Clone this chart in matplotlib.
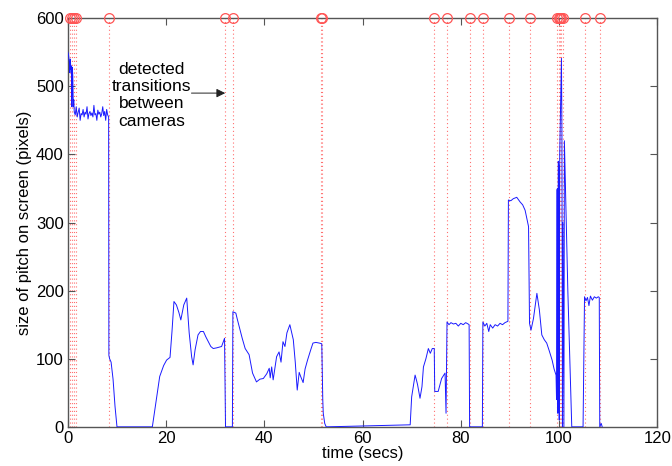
import matplotlib
matplotlib.use('Agg')
import matplotlib.pyplot as plt
import numpy as np

# 数据
time_s = [0.0, 0.15, 0.3, 0.4, 0.5, 0.6, 0.7, 0.8, 0.9, 1.0, 1.1, 1.2, 1.3, 1.5, 1.7, 1.9,
          2.1, 2.3, 2.5, 2.7, 2.9, 3.1, 3.3, 3.5, 3.7, 3.9, 4.1, 4.3, 4.5, 4.7, 4.9, 5.1,
          5.3, 5.5, 5.7, 5.9, 6.1, 6.3, 6.5, 6.7, 6.9, 7.1, 7.3, 7.5, 7.7, 7.9, 8.1, 8.3,
          8.35, 8.5, 8.8, 9.2, 9.6, 10.0,
          17.2, 18.0, 18.7, 19.5, 20.1, 20.8, 21.2, 21.6, 22.1, 22.6, 23.0, 23.6, 24.2,
          24.7, 25.2, 25.5, 25.9, 26.5, 27.0, 27.6, 28.1, 28.6, 29.1, 29.6, 30.3, 30.8,
          31.3, 31.9, 32.0, 32.1, 33.5, 33.6, 34.2, 34.5, 34.9, 35.5, 36.1, 36.9, 37.6,
          38.4, 39.1, 39.8, 40.5, 41.0, 41.2, 41.5, 41.8, 42.5, 43.0, 43.4, 43.8, 44.2,
          44.6, 45.2, 45.9, 46.3, 46.7, 47.1, 47.4, 47.9, 48.3, 48.8, 49.4, 49.9, 50.5,
          51.2, 51.7, 51.8, 51.9, 52.0, 52.3, 52.6,
          69.7, 70.0, 70.7, 71.0, 71.2, 71.5, 71.7, 72.1, 72.4, 72.9, 73.4, 73.8, 74.2,
          74.6, 74.7, 75.4, 76.1, 76.8, 77.0, 77.2, 77.6, 78.0, 78.5, 79.0, 79.5, 80.0,
          80.5, 81.0, 81.5, 81.7, 81.8, 84.4, 84.5, 84.9, 85.3, 85.7, 86.0, 86.5, 87.0,
          87.5, 88.0, 88.5, 89.0, 89.6, 89.7, 90.2, 90.7, 91.4, 92.1, 92.6, 93.1, 93.8,
          94.0, 94.3, 94.8, 95.5, 96.0, 96.5, 97.0, 97.5, 98.0, 98.6, 99.0, 99.4, 99.5,
          99.55, 99.7, 99.75, 99.85, 100.0, 100.05, 100.15, 100.3, 100.5, 100.6, 100.7,
          100.8, 100.9, 101.0, 101.1, 101.8, 102.6, 104.9, 105.2, 105.5, 105.8, 106.1,
          106.4, 106.8, 107.2, 107.6, 108.0, 108.2, 108.3, 108.6, 108.8]
pitch_px = [550, 545, 535, 520, 540, 525, 530, 470, 528, 515, 470, 480, 462, 458, 470, 455,
            462, 468, 450, 460, 458, 466, 455, 462, 459, 470, 452, 460, 463, 457, 461, 455,
            472, 458, 460, 450, 465, 459, 462, 455, 460, 470, 457, 463, 450, 466, 458, 455,
            105, 100, 95, 70, 30, 0,
            0, 40, 74, 90, 98, 102, 140, 184, 179, 168, 157, 179, 189,
            138, 103, 91, 113, 135, 140, 140, 132, 125, 118, 115, 116, 117,
            118, 130, 60, 0, 0, 169, 167, 158, 147, 130, 115, 106, 79,
            66, 70, 71, 78, 86, 72, 88, 69, 103, 110, 95, 125, 118,
            138, 150, 128, 95, 54, 80, 74, 65, 85, 98, 112, 123, 124,
            123, 122, 84, 40, 20, 5, 0,
            3, 44, 76, 68, 62, 50, 42, 59, 88, 100, 115, 108, 115,
            115, 52, 52, 71, 79, 20, 154, 150, 153, 151, 152, 148, 152,
            150, 153, 151, 150, 0, 0, 154, 148, 152, 140, 150, 145, 150,
            148, 152, 150, 153, 155, 333, 332, 335, 337, 330, 326, 318, 294,
            152, 142, 159, 196, 172, 135, 128, 123, 112, 98, 85, 76, 40,
            348, 350, 20, 390, 380, 10, 400, 460, 541, 430, 0,
            300, 150, 0, 420, 200, 0, 0, 191, 185, 190, 178,
            192, 186, 191, 189, 191, 190, 0, 5, 0]

# 检测到的镜头切换时刻
transitions = [0.5, 0.9, 1.3, 1.7, 8.4, 32.0, 33.7, 51.6, 51.8, 74.6, 77.2, 81.8,
               84.6, 89.8, 94.0, 99.6, 99.9, 100.2, 100.5, 100.9, 105.3, 108.3]

plt.rcParams['font.family'] = ['Liberation Sans', 'DejaVu Sans']
plt.rcParams['font.size'] = 12

fig = plt.figure(figsize=(6.72, 4.66), dpi=100)
ax = fig.add_axes([0.101, 0.084, 0.877, 0.877])

for t in transitions:
    ax.axvline(t, color='#ff7070', linestyle=(0, (1, 2.5)), linewidth=0.8, zorder=1)
ax.plot(transitions, [600] * len(transitions), 'o', mfc='none', mec='#ff5555',
        markersize=7, markeredgewidth=0.9, clip_on=False, zorder=4)

ax.plot(time_s, pitch_px, color='#1a1aff', linewidth=0.7, zorder=3)

ax.annotate('', xy=(32.6, 490), xytext=(24.6, 490),
            arrowprops=dict(arrowstyle='-|>', color='#222222', lw=0.7, mutation_scale=13))
ax.text(17.1, 487, 'detected\ntransitions\nbetween\ncameras', ha='center', va='center',
        fontsize=12.5, linespacing=1.2)

ax.set_xlim(0, 120)
ax.set_ylim(0, 600)
ax.set_xticks(np.arange(0, 121, 20))
ax.set_yticks(np.arange(0, 601, 100))
ax.tick_params(direction='in', top=True, right=True, length=5, width=0.8, colors='#555555',
               labelcolor='black', labelsize=12, pad=3)
for s in ax.spines.values():
    s.set_color('#555555')
    s.set_linewidth(1.0)

ax.set_xlabel('time (secs)', labelpad=0)
ax.set_ylabel('size of pitch on screen (pixels)', labelpad=3)

fig.savefig('out.png', dpi=100)
